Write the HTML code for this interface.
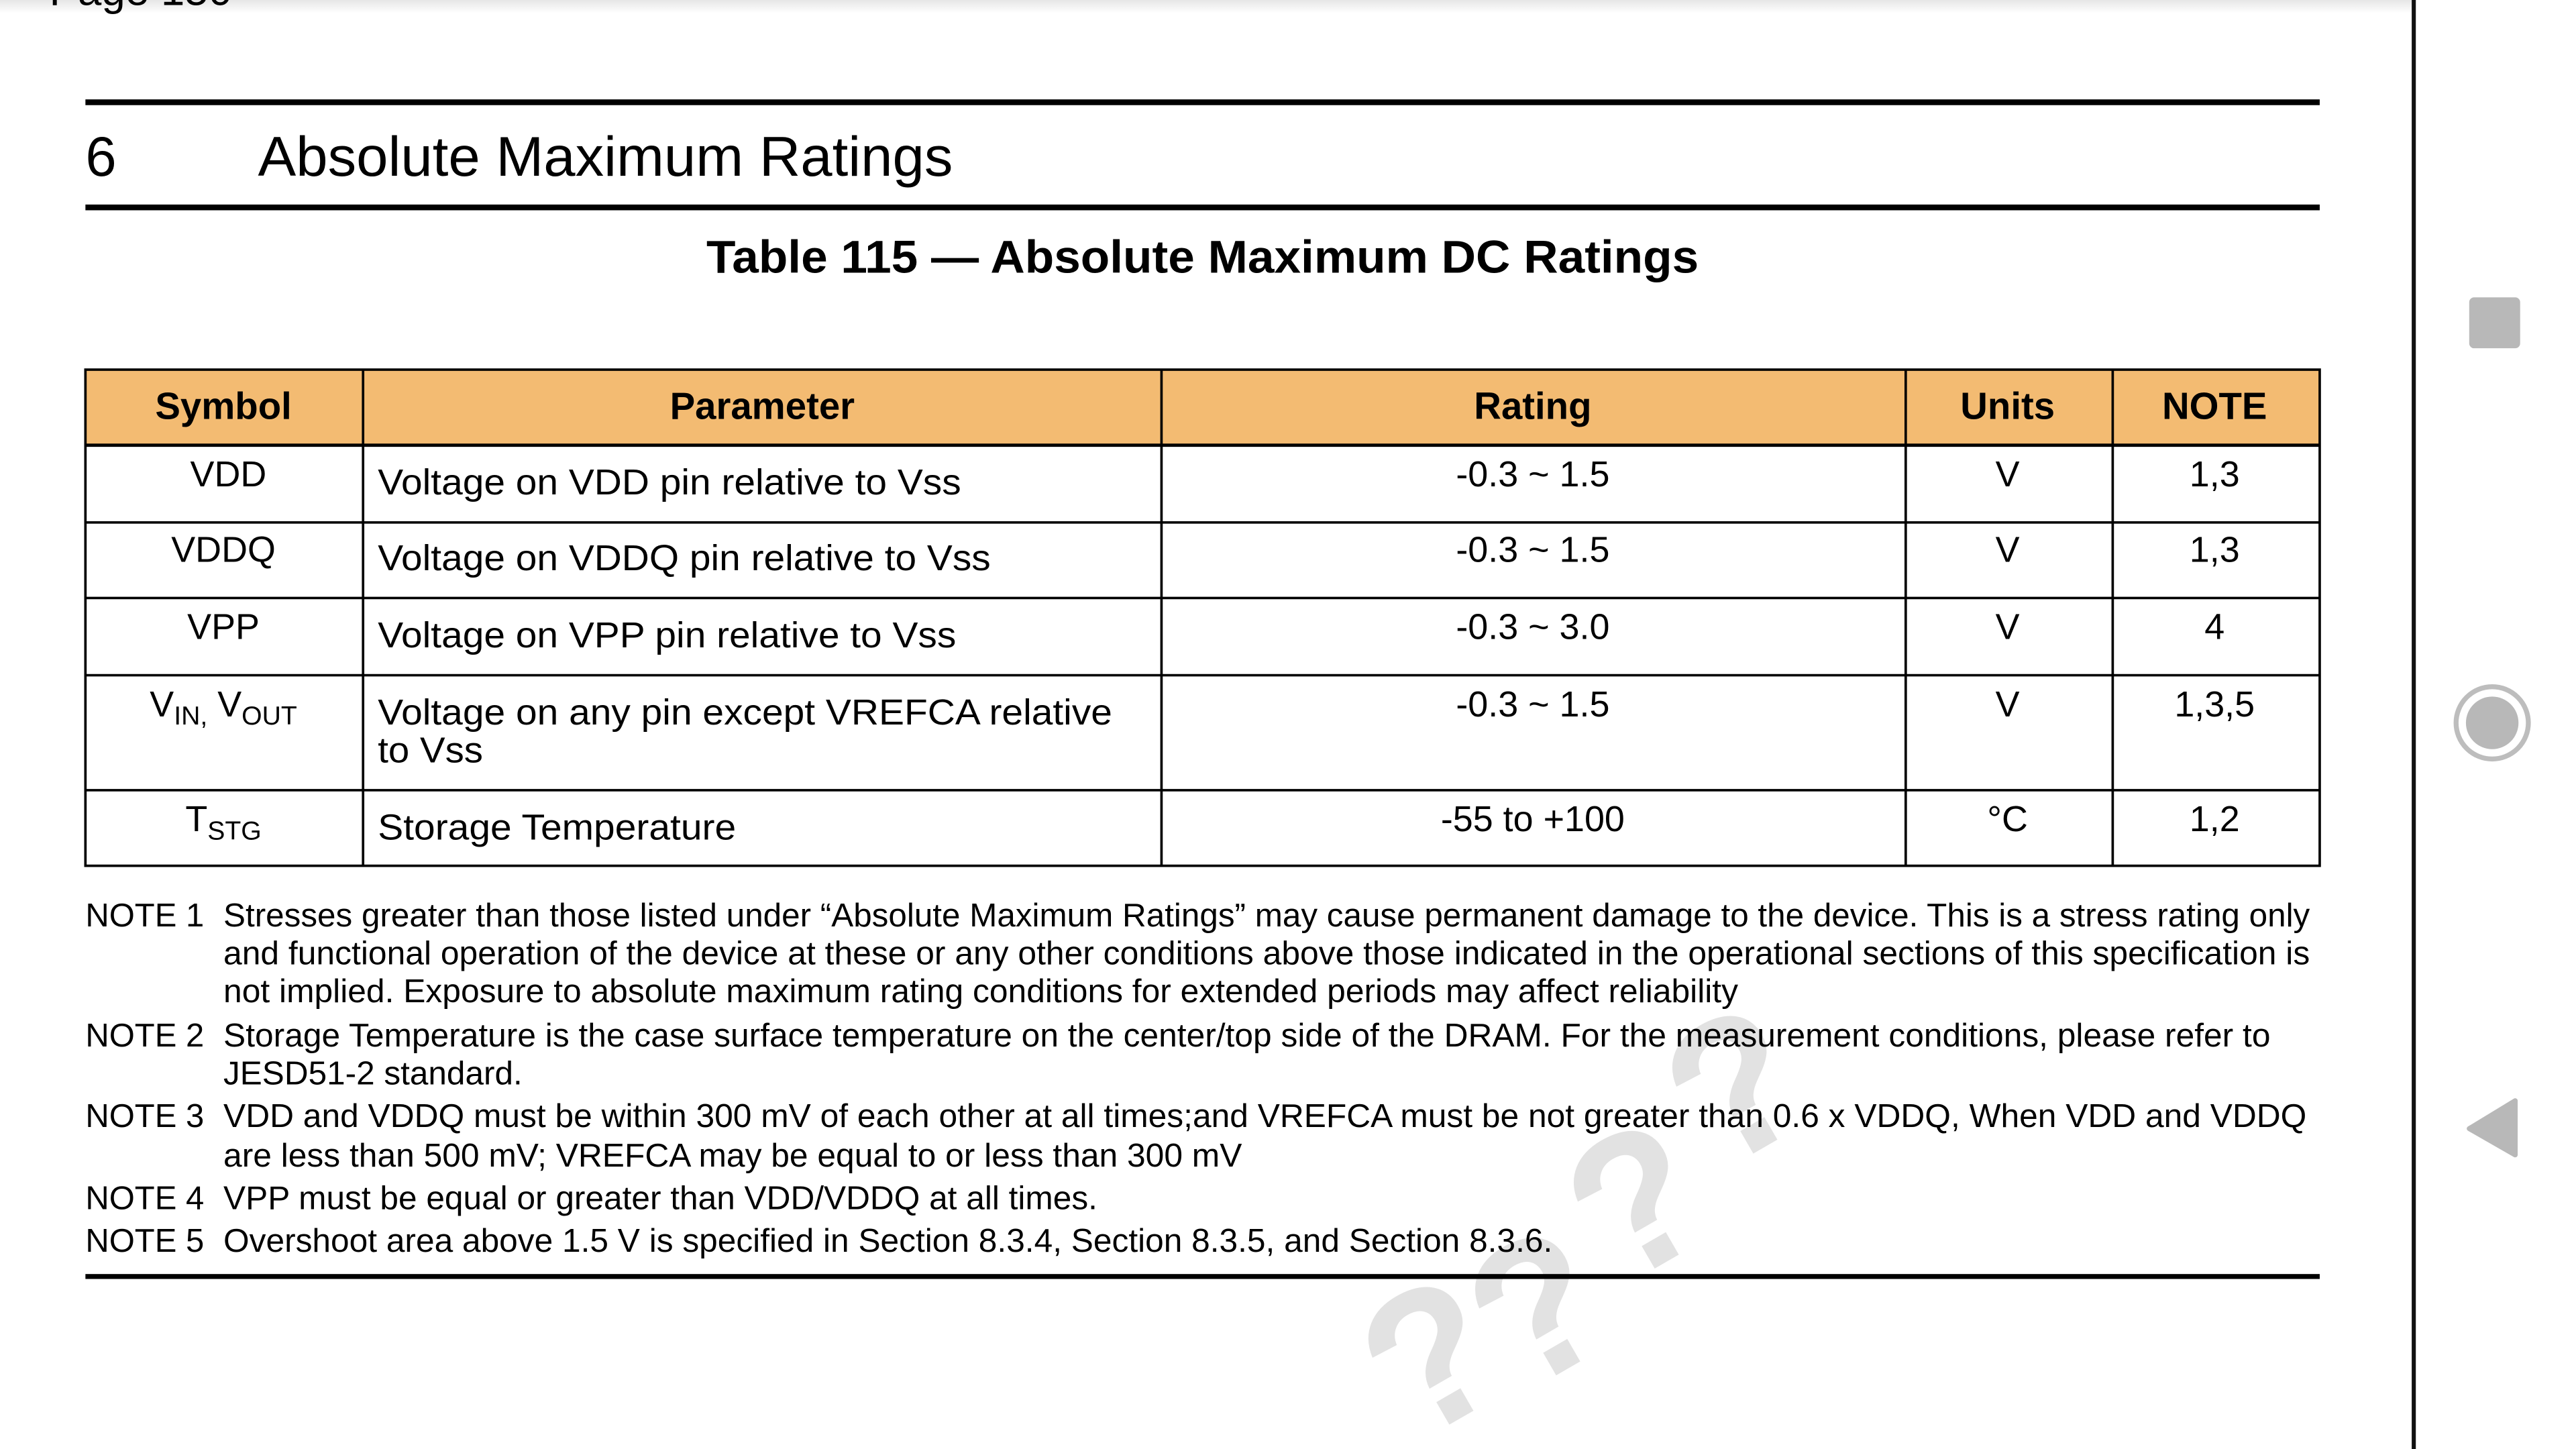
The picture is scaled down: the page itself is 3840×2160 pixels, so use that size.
<!DOCTYPE html>
<html><head><meta charset="utf-8"><style>
html,body{margin:0;padding:0;background:#fff;width:3840px;height:2160px;overflow:hidden;}
svg{display:block;position:absolute;left:0;top:0;}
text{font-family:"Liberation Sans",Arial,sans-serif;fill:#000;}
</style></head><body>
<svg width="3840" height="2160" viewBox="0 0 1568 882" preserveAspectRatio="none" xmlns="http://www.w3.org/2000/svg">
<defs><linearGradient id="sh" x1="0" y1="0" x2="0" y2="1"><stop offset="0" stop-color="#e6e6e6"/><stop offset="1" stop-color="#fff"/></linearGradient></defs>
<rect width="1568" height="882" fill="#fff"/>
<rect x="0" y="0" width="1468" height="8" fill="url(#sh)"/>
<text x="30" y="20" font-size="26" dy="-17">Page 150</text>

<!-- watermark -->
<g font-weight="bold" font-size="120">
<text x="1045" y="715" transform="rotate(-30 1045 715)" style="fill:#e2e2e2">?</text>
<text x="985" y="785" transform="rotate(-30 985 785)" style="fill:#e2e2e2">?</text>
<text x="925" y="850" transform="rotate(-30 925 850)" style="fill:#e2e2e2">?</text>
<text x="860" y="880" transform="rotate(-30 860 880)" style="fill:#e2e2e2">?</text>
</g>

<rect x="52" y="60.5" width="1360" height="3.5" fill="#000"/>
<text x="52" y="107" font-size="34">6</text>
<text x="157" y="107" font-size="34" textLength="423" lengthAdjust="spacingAndGlyphs">Absolute Maximum Ratings</text>
<rect x="52" y="124.5" width="1360" height="3.5" fill="#000"/>
<text x="430" y="166" font-size="28" font-weight="bold" textLength="604" lengthAdjust="spacingAndGlyphs">Table 115 — Absolute Maximum DC Ratings</text>

<!-- table -->
<rect x="52" y="225" width="1360" height="46" fill="#F3BB72"/>
<g stroke="#000" stroke-width="1.5" fill="none">
<rect x="52" y="225" width="1360" height="302"/>
<line x1="52" y1="271" x2="1412" y2="271" stroke-width="2"/>
<line x1="52" y1="318" x2="1412" y2="318"/>
<line x1="52" y1="364" x2="1412" y2="364"/>
<line x1="52" y1="411" x2="1412" y2="411"/>
<line x1="52" y1="481" x2="1412" y2="481"/>
<line x1="221" y1="225" x2="221" y2="527"/>
<line x1="707" y1="225" x2="707" y2="527"/>
<line x1="1160" y1="225" x2="1160" y2="527"/>
<line x1="1286" y1="225" x2="1286" y2="527"/>
</g>
<g font-size="23" font-weight="bold" text-anchor="middle">
<text x="136" y="255">Symbol</text>
<text x="464" y="255">Parameter</text>
<text x="933" y="255">Rating</text>
<text x="1222" y="255">Units</text>
<text x="1348" y="255">NOTE</text>
</g>
<g font-size="22" text-anchor="middle">
<text x="139" y="296">VDD</text>
<text x="136" y="342">VDDQ</text>
<text x="136" y="389">VPP</text>
<text x="136" y="436">V<tspan font-size="16" dy="5">IN,</tspan><tspan dy="-5"> V</tspan><tspan font-size="16" dy="5">OUT</tspan></text>
<text x="136" y="506">T<tspan font-size="16" dy="5">STG</tspan></text>
<text x="933" y="296">-0.3  ~ 1.5</text>
<text x="933" y="342">-0.3  ~ 1.5</text>
<text x="933" y="389">-0.3  ~ 3.0</text>
<text x="933" y="436">-0.3  ~ 1.5</text>
<text x="933" y="506">-55 to +100</text>
<text x="1222" y="296">V</text>
<text x="1222" y="342">V</text>
<text x="1222" y="389">V</text>
<text x="1222" y="436">V</text>
<text x="1222" y="506">°C</text>
<text x="1348" y="296">1,3</text>
<text x="1348" y="342">1,3</text>
<text x="1348" y="389">4</text>
<text x="1348" y="436">1,3,5</text>
<text x="1348" y="506">1,2</text>
</g>
<g font-size="22">
<text x="230" y="301" textLength="355" lengthAdjust="spacingAndGlyphs">Voltage on VDD pin relative to Vss</text>
<text x="230" y="347" textLength="373" lengthAdjust="spacingAndGlyphs">Voltage on VDDQ pin relative to Vss</text>
<text x="230" y="394" textLength="352" lengthAdjust="spacingAndGlyphs">Voltage on VPP pin relative to Vss</text>
<text x="230" y="441" textLength="447" lengthAdjust="spacingAndGlyphs">Voltage on any pin except VREFCA relative</text>
<text x="230" y="464" textLength="64" lengthAdjust="spacingAndGlyphs">to Vss</text>
<text x="230" y="511" textLength="218" lengthAdjust="spacingAndGlyphs">Storage Temperature</text>
</g>

<!-- notes -->
<g font-size="20">
<text x="52" y="564">NOTE 1</text>
<text x="136" y="564" textLength="1270" lengthAdjust="spacingAndGlyphs">Stresses greater than those listed under “Absolute Maximum Ratings” may cause permanent damage to the device. This is a stress rating only</text>
<text x="136" y="587" textLength="1270" lengthAdjust="spacingAndGlyphs">and functional operation of the device at these or any other conditions above those indicated in the operational sections of this specification is</text>
<text x="136" y="610" textLength="922" lengthAdjust="spacingAndGlyphs">not implied. Exposure to absolute maximum rating conditions for extended periods may affect reliability</text>
<text x="52" y="637">NOTE 2</text>
<text x="136" y="637" textLength="1246" lengthAdjust="spacingAndGlyphs">Storage Temperature is the case surface temperature on the center/top side of the DRAM. For the measurement conditions, please refer to</text>
<text x="136" y="660" textLength="182" lengthAdjust="spacingAndGlyphs">JESD51-2 standard.</text>
<text x="52" y="686">NOTE 3</text>
<text x="136" y="686" textLength="1268" lengthAdjust="spacingAndGlyphs">VDD and VDDQ must be within 300 mV of each other at all times;and VREFCA must be not greater than 0.6 x VDDQ, When VDD and VDDQ</text>
<text x="136" y="710" textLength="620" lengthAdjust="spacingAndGlyphs">are less than 500 mV; VREFCA may be equal to or less than 300 mV</text>
<text x="52" y="736">NOTE 4</text>
<text x="136" y="736" textLength="532" lengthAdjust="spacingAndGlyphs">VPP must be equal or greater than VDD/VDDQ at all times.</text>
<text x="52" y="762">NOTE 5</text>
<text x="136" y="762" textLength="809" lengthAdjust="spacingAndGlyphs">Overshoot area above 1.5 V is specified in Section 8.3.4, Section 8.3.5, and Section 8.3.6.</text>
</g>
<rect x="52" y="775.5" width="1360" height="3" fill="#000"/>

<!-- side bar -->
<rect x="1468" y="0" width="2.5" height="882" fill="#111"/>
<rect x="1503" y="181" width="31" height="31" rx="3" fill="#b8b8b8"/>
<circle cx="1517" cy="440" r="22" fill="none" stroke="#bdbdbd" stroke-width="3"/>
<circle cx="1517" cy="440" r="16" fill="#b8b8b8"/>
<path d="M1531 670 L1531 703 L1503 687 Z" fill="#b8b8b8" stroke="#b8b8b8" stroke-width="3" stroke-linejoin="round"/>
</svg>
</body></html>
